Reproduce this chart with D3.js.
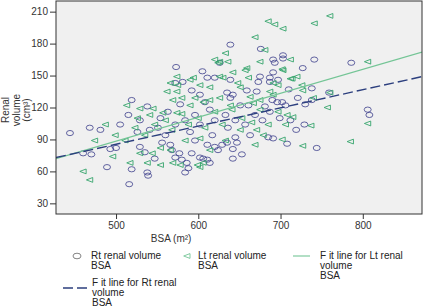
<!DOCTYPE html>
<html>
<head>
<meta charset="utf-8">
<script src="https://cdn.jsdelivr.net/npm/d3@7"></script>
<style>
  body { margin: 0; background: #fff; }
  svg { display: block; font-family: "Liberation Sans", Arial, sans-serif; }
</style>
</head>
<body>
<div id="chartContainer"></div>
<script>
// Rt renal volume vs BSA  [BSA, volume]
const rtPoints = [
  [460,77],[470,76],[489,64],[519,62],[516,48],[500,82],[526,97],[639,179],[676,175],[691,165],
  [573,158],[605,154],[572,143],[581,144],[703,169],[703,166],[741,165],[727,157],[786,162],[710,137],
  [738,138],[759,134],[721,129],[730,123],[738,127],[806,118],[808,113],[729,104],[719,99],[708,86],
  [744,82],[642,72],[653,76],[642,81],[685,92],[691,91],[629,85],[635,87],[645,92],[647,87],
  [515,113],[493,81],[538,59],[539,56],[547,72],[529,83],[535,78],[556,87],[566,85],[568,80],
  [572,73],[577,77],[580,71],[586,68],[588,63],[584,59],[592,77],[602,73],[606,72],[611,71],
  [614,68],[611,85],[620,83],[624,80],[519,127],[538,121],[611,148],[620,148],[592,136],[602,132],
  [626,162],[693,162],[691,153],[675,149],[673,144],[687,148],[687,144],[697,146],[639,146],[659,136],
  [671,135],[635,134],[639,129],[642,132],[690,127],[696,125],[702,125],[706,122],[651,122],[661,122],
  [554,110],[563,116],[572,104],[584,108],[596,113],[602,104],[614,118],[620,108],[633,113],[645,108],
  [657,104],[669,113],[678,108],[687,116],[699,110],[541,99],[551,101],[560,94],[590,97],[617,94],
  [663,94],[481,99],[505,104],[468,101],[712,108],[608,125],[636,101],[578,123],[681,121],[596,89],
  [444,96],[529,108]
];

// Lt renal volume vs BSA  [BSA, volume]
const ltPoints = [
  [460,60],[468,52],[496,74],[517,68],[685,201],[693,198],[669,186],[681,174],[633,171],[620,165],
  [626,163],[636,163],[574,149],[590,146],[659,157],[760,206],[741,199],[703,194],[712,165],[703,155],
  [806,163],[720,149],[714,147],[726,141],[727,136],[740,129],[757,120],[806,105],[785,88],[737,103],
  [708,113],[715,111],[727,84],[702,90],[679,94],[651,99],[671,99],[526,110],[541,113],[557,115],
  [574,115],[580,114],[538,68],[554,66],[544,77],[529,77],[554,82],[578,66],[569,68],[599,66],
  [602,64],[606,68],[566,143],[575,141],[562,135],[574,135],[580,129],[569,127],[513,122],[529,119],
  [545,119],[594,148],[602,141],[614,139],[624,162],[596,129],[606,125],[614,127],[675,163],[642,153],
  [657,155],[661,148],[702,156],[691,143],[697,141],[712,147],[626,149],[630,148],[648,143],[651,139],
  [626,129],[687,135],[691,132],[663,130],[667,124],[760,134],[547,104],[560,108],[568,99],[588,104],
  [600,110],[608,101],[620,116],[629,104],[641,118],[653,110],[665,106],[675,118],[685,104],[697,116],
  [706,104],[535,94],[584,89],[602,91],[633,89],[499,94],[474,89],[511,89],[614,80],[669,85],
  [590,122],[639,122],[675,127],[523,101],[487,104],[566,80]
];

// fit lines (end points)
const fitLt = [[427,72],[872,172]];
const fitRt = [[427,73],[872,149]];

const xTicks = [500, 600, 700, 800];
const yTicks = [30, 60, 90, 120, 150, 180, 210];

const rtColor = "#3c3f8c";
const ltColor = "#35a56c";
const ltLineColor = "#74c596";
const rtLineColor = "#2c3f7e";

const W = 423, H = 308;
const margin = { top: 1, right: 1, bottom: 94, left: 56 };
const width = W - margin.left - margin.right;
const height = H - margin.top - margin.bottom;

const svg = d3.select("#chartContainer").append("svg")
  .attr("width", W)
  .attr("height", H);

const g = svg.append("g")
  .attr("transform", `translate(${margin.left},${margin.top})`);

const x = d3.scaleLinear().domain([427, 872]).range([0, width]);
const y = d3.scaleLinear().domain([20, 220]).range([height, 0]);

g.append("rect")
  .attr("width", width)
  .attr("height", height)
  .attr("fill", "#f0f0f0");

svg.append("clipPath").attr("id", "plotClip")
  .append("rect").attr("width", width).attr("height", height);

const plot = g.append("g").attr("clip-path", "url(#plotClip)");

// Rt points: open ellipses
plot.append("g").selectAll("ellipse")
  .data(rtPoints)
  .join("ellipse")
  .attr("cx", d => x(d[0]))
  .attr("cy", d => y(d[1]))
  .attr("rx", 3.5)
  .attr("ry", 2.6)
  .attr("fill", "none")
  .attr("stroke", rtColor)
  .attr("stroke-width", 0.8);

// Lt points: left pointing triangles
const tri = d3.symbol().type({
  draw(ctx, size) {
    const s = Math.sqrt(size);
    ctx.moveTo(-s * 0.55, 0);
    ctx.lineTo(s * 0.5, -s * 0.4);
    ctx.lineTo(s * 0.5, s * 0.4);
    ctx.closePath();
  }
}).size(36);

plot.append("g").selectAll("path")
  .data(ltPoints)
  .join("path")
  .attr("transform", d => `translate(${x(d[0])},${y(d[1])})`)
  .attr("d", tri)
  .attr("fill", "none")
  .attr("stroke", ltColor)
  .attr("stroke-width", 0.9);

const line = d3.line().x(d => x(d[0])).y(d => y(d[1]));

plot.append("path")
  .datum(fitLt)
  .attr("d", line)
  .attr("fill", "none")
  .attr("stroke", ltLineColor)
  .attr("stroke-width", 1.1);

plot.append("path")
  .datum(fitRt)
  .attr("d", line)
  .attr("fill", "none")
  .attr("stroke", rtLineColor)
  .attr("stroke-width", 1.4)
  .attr("stroke-dasharray", "10,4");

// frame
g.append("rect")
  .attr("width", width)
  .attr("height", height)
  .attr("fill", "none")
  .attr("stroke", "#333")
  .attr("stroke-width", 1);

// axes
const xAxis = g.append("g")
  .attr("transform", `translate(0,${height})`)
  .call(d3.axisBottom(x).tickValues(xTicks).tickSize(5).tickPadding(3));
const yAxis = g.append("g")
  .call(d3.axisLeft(y).tickValues(yTicks).tickSize(6).tickPadding(2));

[xAxis, yAxis].forEach(a => {
  a.select(".domain").remove();
  a.selectAll("line").attr("stroke", "#333");
  a.selectAll("text").attr("fill", "#333").style("font-size", "10px");
});

// axis titles
svg.append("text")
  .attr("x", margin.left + x(567))
  .attr("y", 242)
  .attr("text-anchor", "middle")
  .attr("fill", "#333")
  .style("font-size", "10px")
  .text("BSA (m²)");

const yTitle = svg.append("text")
  .attr("transform", "translate(9,110) rotate(-90)")
  .attr("text-anchor", "middle")
  .attr("fill", "#333")
  .style("font-size", "10px");
["Renal", "volume", "(cm³)"].forEach((t, i) => {
  yTitle.append("tspan").attr("x", 0).attr("dy", i ? 10.5 : 0).text(t);
});

// legend
const legend = svg.append("g").style("font-size", "10px").attr("fill", "#222");

function legendText(tx, ty, lines) {
  const t = legend.append("text").attr("x", tx).attr("y", ty);
  lines.forEach((s, i) => t.append("tspan").attr("x", tx).attr("dy", i ? 10 : 0).text(s));
}

legend.append("ellipse")
  .attr("cx", 77).attr("cy", 256).attr("rx", 4).attr("ry", 2.8)
  .attr("fill", "none").attr("stroke", "#666").attr("stroke-width", 0.8);
legendText(91, 259, ["Rt renal volume", "BSA"]);

legend.append("path")
  .attr("transform", "translate(187,256)")
  .attr("d", tri)
  .attr("fill", "none").attr("stroke", ltLineColor).attr("stroke-width", 0.9);
legendText(198, 259, ["Lt renal volume", "BSA"]);

legend.append("line")
  .attr("x1", 293).attr("x2", 310).attr("y1", 256).attr("y2", 256)
  .attr("stroke", ltLineColor).attr("stroke-width", 1.1);
legendText(320, 259, ["F it line for Lt renal", "volume", "BSA"]);

legend.append("line")
  .attr("x1", 63).attr("x2", 87).attr("y1", 288).attr("y2", 288)
  .attr("stroke", rtLineColor).attr("stroke-width", 1.4)
  .attr("stroke-dasharray", "10,4");
legendText(92, 286, ["F it line for Rt renal", "volume", "BSA"]);
</script>
</body>
</html>
